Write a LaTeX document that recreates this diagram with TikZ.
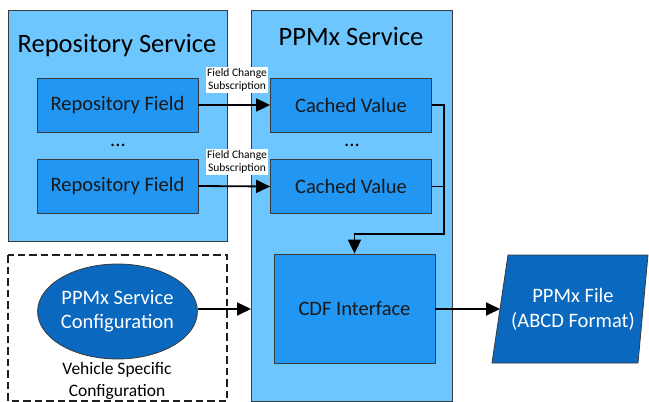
\documentclass[tikz,border=0pt]{standalone}
\usepackage{fontspec}
\setmainfont{Carlito}
\usetikzlibrary{arrows.meta,shapes.geometric,calc}
\definecolor{paneblue}{HTML}{6EC6FE}
\definecolor{boxblue}{HTML}{2196F3}
\definecolor{deepblue}{HTML}{0A68BE}
\definecolor{edgegray}{HTML}{3A3A3A}
\begin{document}
\begin{tikzpicture}[x=1pt,y=-1pt,
  pane/.style={fill=paneblue,draw=edgegray,line width=0.9pt,anchor=north west,inner sep=0pt},
  panetitle/.style={font=\fontsize{26.5}{30}\selectfont,anchor=base,inner sep=0pt},
  fieldbox/.style={fill=boxblue,draw=edgegray,line width=0.8pt,minimum width=161pt,minimum height=54pt,
    inner sep=0pt,font=\fontsize{20.5}{24}\selectfont,text=black!90},
  dots/.style={font=\fontsize{20.5}{24}\selectfont,anchor=base,inner sep=0pt},
  sublabel/.style={fill=white,font=\fontsize{11.5}{13}\selectfont,align=center,inner sep=1pt,
    minimum width=62pt,minimum height=26pt},
  conn/.style={line width=1.8pt,-{Triangle[length=14pt,width=13pt]}},
  wire/.style={line width=1.8pt}]
\useasboundingbox (0,0) rectangle (649,402);

% service panes
\node[pane,minimum width=219pt,minimum height=231pt] (repo) at (8,10) {};
\node[pane,minimum width=201pt,minimum height=391pt] (ppmx) at (251,10) {};
\node[panetitle] (repotitle) at (117,52) {Repository Service};
\node[panetitle] (ppmxtitle) at (351,45) {PPMx Service};

% repository fields and cached values
\node[fieldbox] (rf1) at (117.5,105) {Repository Field};
\node[fieldbox] (rf2) at (117.5,186) {Repository Field};
\node[dots] (rdots) at (118,146) {...};
\node[fieldbox] (cv1) at (351,105) {Cached Value};
\node[fieldbox] (cv2) at (351,186.5) {Cached Value};
\node[dots] (cdots) at (352,146) {...};

% CDF interface
\node[fieldbox,minimum height=109pt] (cdf) at (354.5,308.5) {CDF Interface};

% vehicle specific configuration
\draw[draw=black!88,line width=1.2pt,dash pattern=on 7.5pt off 4pt] (8,255) rectangle (227,401);
\node[ellipse,fill=deepblue,draw=edgegray,line width=0.8pt,minimum width=155pt,minimum height=95pt,
  inner sep=0pt,align=center,text=white,font=\fontsize{20.5}{24}\selectfont] (cfg) at (117.5,311.5)
  {PPMx Service\\Configuration};
\node[align=center,font=\fontsize{17.5}{22}\selectfont,inner sep=0pt] (vehicle) at (117,381)
  {Vehicle Specific\\Configuration};

% output file
\filldraw[fill=deepblue,draw=edgegray,line width=0.8pt] (508,255) -- (648,255) -- (638,363) -- (492,363) -- cycle;
\node[align=center,text=white,font=\fontsize{20.5}{25}\selectfont,inner sep=0pt] (file) at (573,309.5)
  {PPMx File\\(ABCD Format)};
\coordinate (filein) at (500,309);

% subscription labels
\node[sublabel] (sub1) at (237,80) {Field Change\\Subscription};
\node[sublabel] (sub2) at (237,161.5) {Field Change\\Subscription};

% connectors
\draw[conn] (rf1.east) -- (cv1.west);
\draw[conn] (rf2.east) -- (cv2.west);
\coordinate (bend) at (444,234);
\draw[conn] (cv1.east) -| (bend) -| (cdf.north);
\draw[wire] (cv2.east) -- (cv2.east -| bend);
\draw[conn] (cfg.east |- 0,309) -- (ppmx.west |- 0,309);
\draw[conn] (cdf.east |- filein) -- (filein);
\end{tikzpicture}
\end{document}
